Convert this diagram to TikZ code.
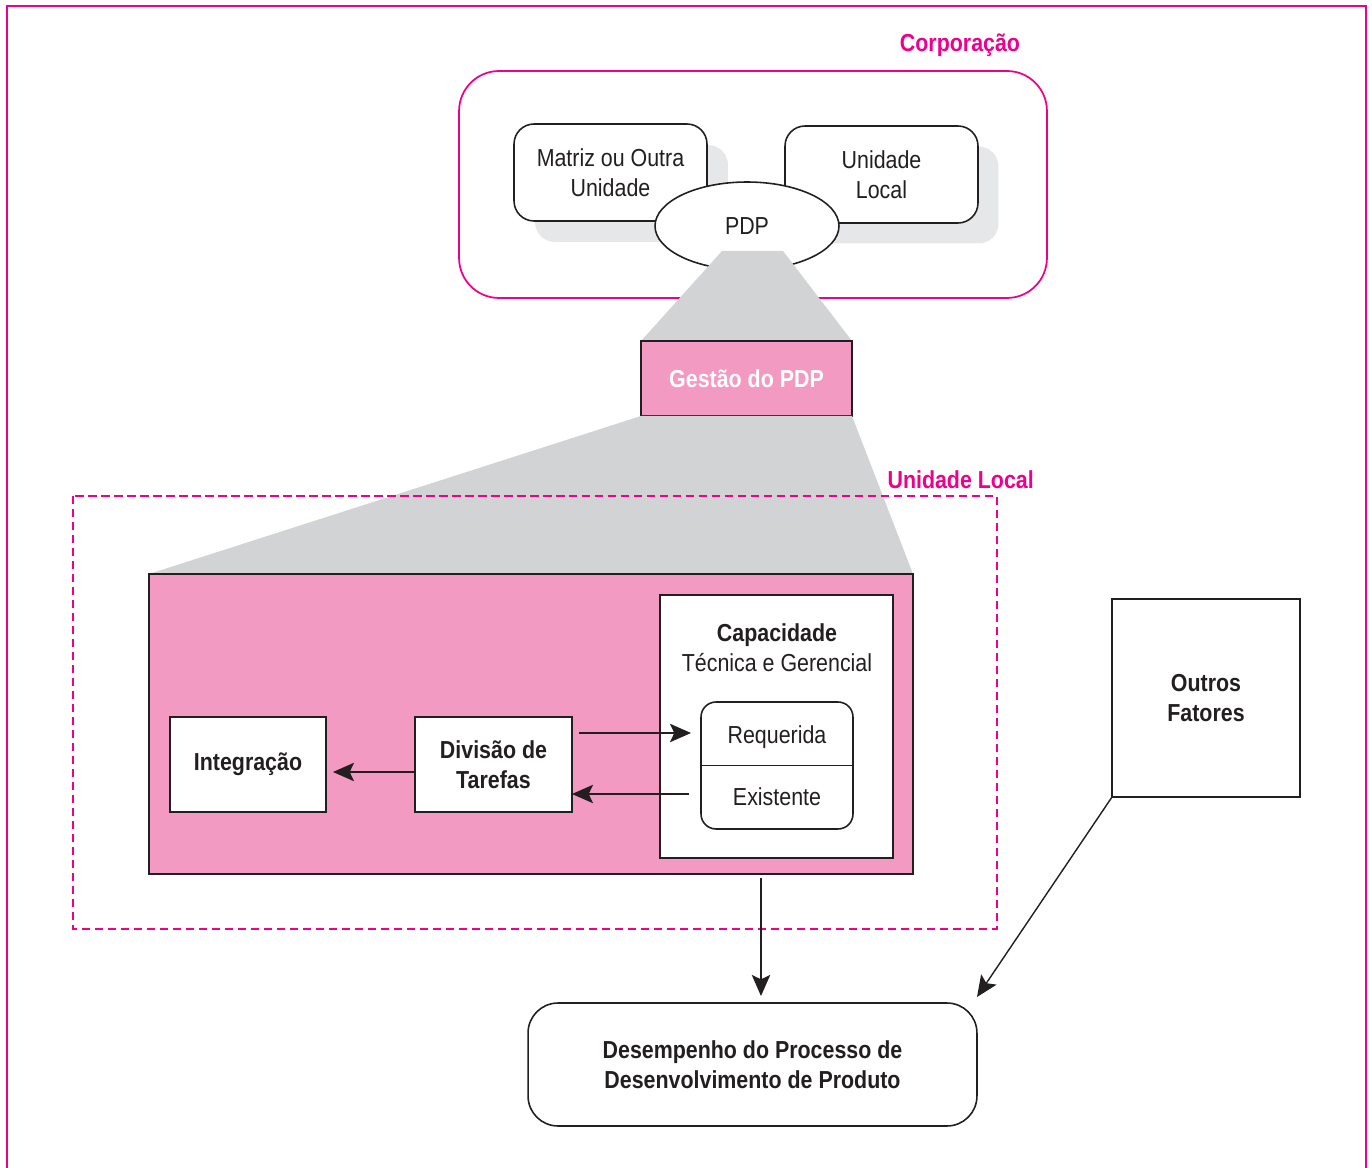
\documentclass[tikz,border=0pt]{standalone}
\usepackage{fontspec}
\setmainfont{Liberation Sans}[FakeStretch=0.87]
\usetikzlibrary{arrows.meta,shapes.geometric}
\definecolor{mag}{HTML}{EC008C}
\definecolor{pk}{HTML}{F39AC2}
\definecolor{gr}{HTML}{D1D3D4}
\definecolor{shad}{HTML}{E6E7E8}
\definecolor{dk}{HTML}{231F20}
\tikzset{
  txt/.style={font=\fontsize{14}{17}\selectfont, text=dk, align=center},
  plainbox/.style={txt, draw=dk, line width=0.9pt, fill=white, inner sep=0pt, outer sep=0pt},
  shadowbox/.style={fill=shad, inner sep=0pt, outer sep=0pt, minimum width=3.86cm, minimum height=1.94cm, rounded corners=0.4cm},
  arr/.style={draw=dk, line width=0.8pt, -{Stealth[length=12pt,width=10.5pt,inset=2.5pt]}},
  maglabel/.style={font=\fontsize{14}{17}\selectfont\bfseries, text=mag}
}
\begin{document}
\begin{tikzpicture}[x=0.02cm,y=-0.02cm]
\useasboundingbox (0,0) rectangle (1372,1168);
\fill[white] (0,0) rectangle (1372,1168);
% outer frame
\draw[mag, line width=1.6pt] (7,1168) -- (7,6) -- (1366,6) -- (1366,1168);
% corporation
\node[draw=mag, line width=1pt, rounded corners=0.8cm, minimum width=11.76cm, minimum height=4.54cm, inner sep=0pt, outer sep=0pt] (corp) at (753,184.5) {};
\node[maglabel] (corplabel) at (960,45) {Corporação};
% shadows
\node[shadowbox] (matrizsh) at (631.5,193.5) {};
\node[shadowbox] (localsh) at (902,195) {};
% units
\node[plainbox, rounded corners=0.4cm, minimum width=3.86cm, minimum height=1.94cm] (matriz) at (610.5,172.5) {Matriz ou Outra\\Unidade};
\node[plainbox, rounded corners=0.4cm, minimum width=3.86cm, minimum height=1.94cm] (local) at (881.5,174.5) {Unidade\\Local};
\node[plainbox, ellipse, minimum width=3.68cm, minimum height=1.76cm] (pdp) at (747,226) {PDP};
% first funnel
\fill[gr] (722,251) -- (783,251) -- (852,341) -- (641,341) -- cycle;
\node[plainbox, fill=pk, text=white, font=\fontsize{14}{17}\selectfont\bfseries, minimum width=4.22cm, minimum height=1.5cm] (ges) at (746.5,378.5) {Gestão do PDP};
% second funnel
\fill[gr] (ges.south west) -- (ges.south east) -- (913,574) -- (149,574) -- cycle;
% local unit dashed
\draw[mag, line width=0.8pt, dash pattern=on 0.17cm off 0.09cm] (73,496) rectangle (997,929);
\node[maglabel, anchor=east] (loclabel) at (1040,480) {Unidade Local};
% big pink box
\node[plainbox, fill=pk, minimum width=15.28cm, minimum height=6cm] (big) at (531,724) {};
\node[plainbox, minimum width=4.66cm, minimum height=5.26cm] (cap) at (776.5,726.5) {};
\node[txt] (captitle) at (777,647.5) {\textbf{Capacidade}\\Técnica e Gerencial};
\node[plainbox, rounded corners=0.3cm, minimum width=3.04cm, minimum height=2.54cm] (inner) at (777,765.5) {};
\draw[dk, line width=0.9pt] (inner.west |- 0,765.5) -- (inner.east |- 0,765.5);
\node[txt] (req) at (777,737) {Requerida};
\node[txt] (exi) at (777,797) {Existente};
\node[plainbox, font=\fontsize{14}{17}\selectfont\bfseries, minimum width=3.12cm, minimum height=1.9cm] (integ) at (248,764.5) {Integração};
\node[plainbox, font=\fontsize{14}{17}\selectfont\bfseries, minimum width=3.14cm, minimum height=1.9cm] (div) at (493.5,764.5) {Divisão de\\Tarefas};
% arrows inside
\draw[arr, shorten >=7*0.02cm] ([yshift=-0.15cm]div.west) -- ([yshift=-0.15cm]integ.east);
\draw[arr, shorten <=7*0.02cm, shorten >=10*0.02cm] (div.east |- 0,733) -- (inner.west |- 0,733);
\draw[arr, shorten <=12*0.02cm] (inner.west |- 0,794) -- (div.east |- 0,794);
% other factors
\node[plainbox, font=\fontsize{14}{17}\selectfont\bfseries, minimum width=3.76cm, minimum height=3.96cm] (outros) at (1206,698) {Outros\\Fatores};
% performance
\node[plainbox, font=\fontsize{14}{17}\selectfont\bfseries, rounded corners=0.6cm, minimum width=8.98cm, minimum height=2.46cm] (desemp) at (752.5,1064.5) {Desempenho do Processo de\\Desenvolvimento de Produto};
\coordinate (vstart) at (761,878);
\coordinate (dend) at (977,997);
\draw[arr, shorten >=7*0.02cm] (vstart) -- (vstart |- desemp.north);
\draw[arr] (outros.south west) -- (dend);
\end{tikzpicture}
\end{document}
